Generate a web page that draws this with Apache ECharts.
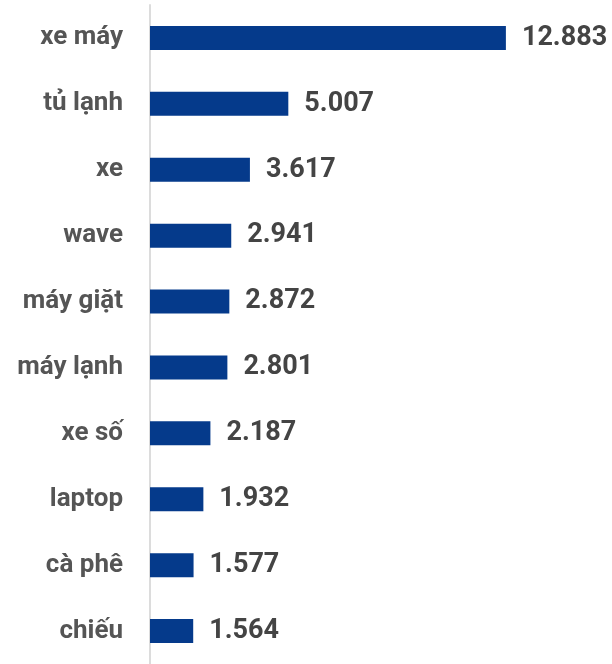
<!DOCTYPE html>
<html>
<head>
<meta charset="utf-8">
<script src="https://cdn.jsdelivr.net/npm/echarts@6/dist/echarts.min.js"></script>
<style>
html,body{margin:0;padding:0;background:#fff;}
#chart{width:612px;height:664px;}
</style>
</head>
<body>
<div id="chart"></div>
<script>
const categories = ["xe máy","tủ lạnh","xe","wave","máy giặt","máy lạnh","xe số","laptop","cà phê","chiếu"];
const values = [12.883, 5.007, 3.617, 2.941, 2.872, 2.801, 2.187, 1.932, 1.577, 1.564];

const chart = echarts.init(document.getElementById('chart'), null, {renderer:'canvas'});
chart.setOption({
  animation:false,
  backgroundColor:'#fff',
  grid:{left:150, right:20, top:5, height:663, containLabel:false},
  xAxis:{type:'value', min:0, max:16, show:false},
  yAxis:{
    type:'category', data:categories, inverse:true,
    axisLine:{show:true, lineStyle:{color:'#dcdcdc', width:2}},
    axisTick:{show:false},
    axisLabel:{fontFamily:'Roboto', fontWeight:'bold', fontSize:26, color:'#555555', margin:27, padding:[8,0,0,0]}
  },
  series:[{
    type:'bar', data:values, barWidth:24,
    itemStyle:{color:'#053a8b'},
    label:{show:true, position:'right', distance:16, padding:[7,0,0,0],
      fontFamily:'Roboto', fontWeight:'bold', fontSize:27, color:'#444444',
      formatter:p=>p.value.toFixed(3)}
  }]
});
</script>
</body>
</html>
